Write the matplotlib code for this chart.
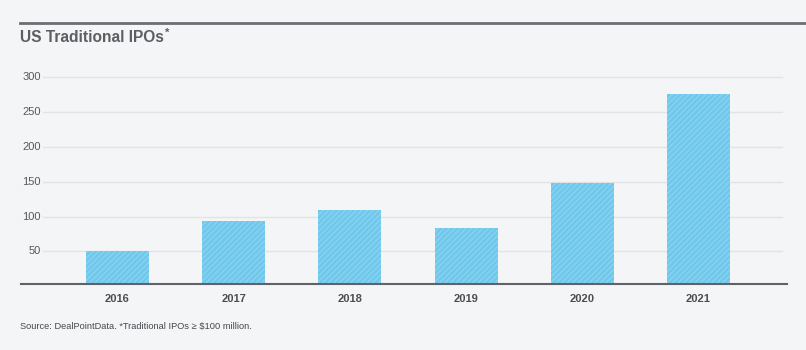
import matplotlib
matplotlib.use("Agg")
import matplotlib.pyplot as plt
from matplotlib.lines import Line2D

years = ["2016", "2017", "2018", "2019", "2020", "2021"]
ipos = [50, 94, 109, 84, 148, 275]
yticks = [50, 100, 150, 200, 250, 300]

BG = "#f4f5f7"
BAR = "#6fc8ec"
HATCH = "#88d3f0"
GRID = "#e1e3e6"
TXT = "#55585d"

plt.rcParams['font.family'] = ['Liberation Sans', 'DejaVu Sans']
plt.rcParams['hatch.linewidth'] = 1.0

W, H = 806, 350
fig = plt.figure(figsize=(W/100, H/100), dpi=100, facecolor=BG)

# axes placement in pixels
ax_l, ax_r = 21, 787
ax_b, ax_t = 284.3, 63
ax = fig.add_axes([ax_l/W, 1-ax_b/H, (ax_r-ax_l)/W, (ax_b-ax_t)/H])
ax.set_facecolor(BG)

x = list(range(len(years)))
ax.bar(x, ipos, width=0.542, color=BAR, edgecolor=HATCH, linewidth=0,
       hatch='//////', zorder=3)

ax.set_xlim(-0.830, 5.762)
ax.set_ylim(3, 320)

# gridlines
tr = ax.get_yaxis_transform()
for v in yticks:
    ax.plot([0.0287, 0.9935], [v, v], transform=tr, color=GRID, lw=1, zorder=1)
    ax.text(0.026, v, str(v), transform=tr, ha='right', va='center',
            fontsize=8, color=TXT)

for s in ['top', 'right', 'left']:
    ax.spines[s].set_visible(False)
ax.spines['bottom'].set_color('#5f6266')
ax.spines['bottom'].set_linewidth(1.5)
ax.spines['bottom'].set_zorder(4)

ax.set_yticks([])
ax.set_xticks(x)
ax.set_xticklabels(years, fontsize=8, color='#4a4d52', fontweight='bold')
ax.tick_params(axis='x', length=0, pad=7)

# header rule and title
fig.add_artist(Line2D([20/W, 1.0], [1-23/H, 1-23/H], color='#6b6e73', lw=2))
title = fig.text(20/W, 1-38/H, "US Traditional IPOs", fontsize=11.2, fontweight='bold',
                 color='#5b5e63', va='center', ha='left')
fig.canvas.draw()
bb = title.get_window_extent()
fig.text((bb.x1 + 1)/W, 1-33/H, "*", fontsize=8, fontweight='bold', color='#5b5e63',
         va='center', ha='left')

fig.text(20/W, 1-327/H, "Source: DealPointData. *Traditional IPOs \u2265 $100 million.",
         fontsize=6.7, color='#45484d', va='center', ha='left')

fig.savefig("out.png", dpi=100, facecolor=BG)
